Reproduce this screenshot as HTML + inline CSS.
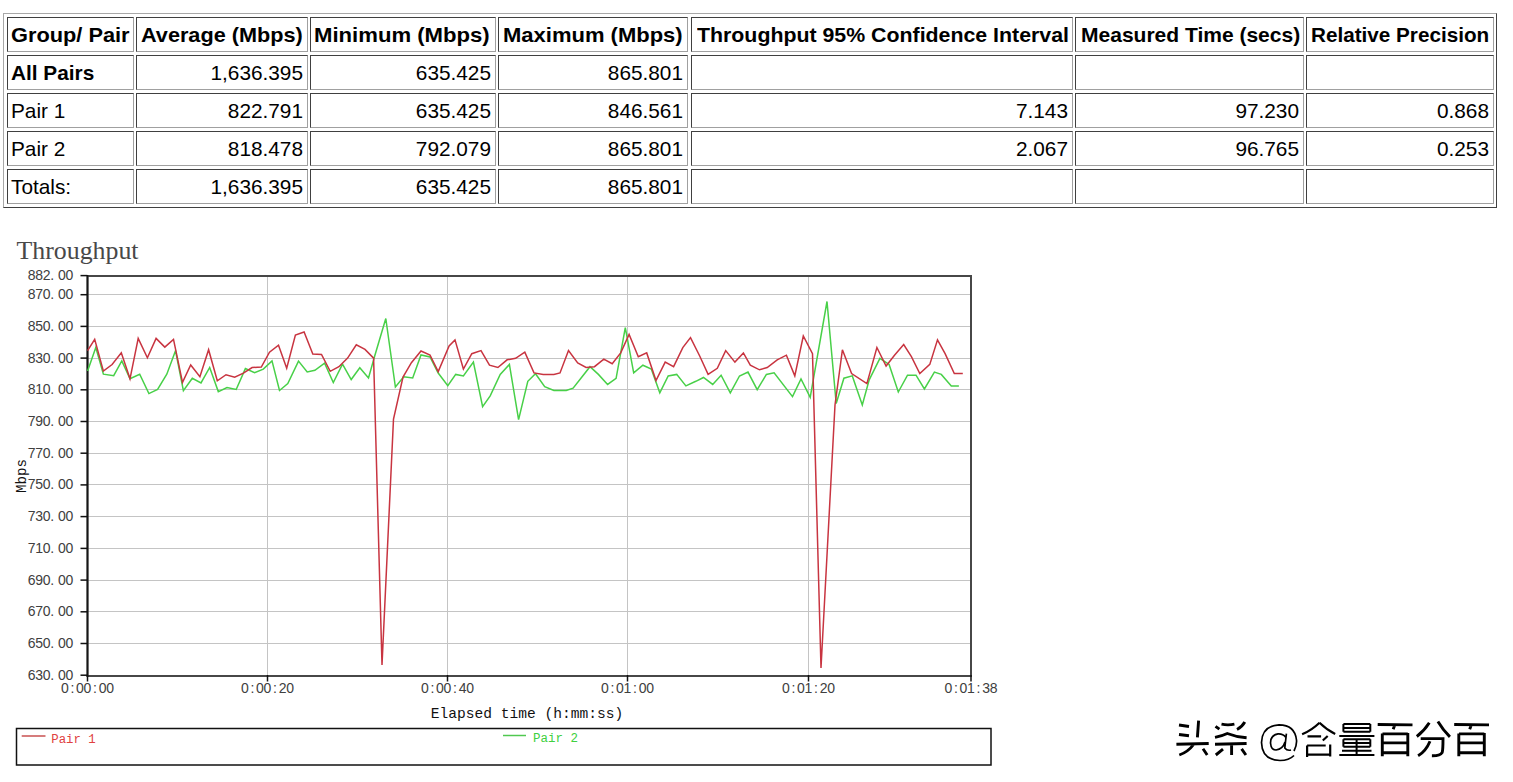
<!DOCTYPE html>
<html><head><meta charset="utf-8"><title>Throughput</title>
<style>
html,body{margin:0;padding:0;background:#fff;}
body{width:1513px;height:782px;position:relative;overflow:hidden;}
.tb{position:absolute;border:1px solid;border-color:#a8a8a8 #404040 #404040 #a8a8a8;}
.td{position:absolute;border:1px solid;border-color:#404040 #a0a0a0 #a0a0a0 #404040;}
.t{position:absolute;font-family:"Liberation Sans",sans-serif;font-size:20.8px;line-height:20px;white-space:nowrap;color:#000;}
.b{font-weight:bold;}
.fit{transform-origin:0 0;}
svg{position:absolute;left:0;top:0;}
.ax{font-family:"Liberation Sans",sans-serif;font-size:14px;fill:#404040;}
.ax2{font-family:"Liberation Mono",monospace;font-size:15px;fill:#111;}
.title{font-family:"Liberation Serif",serif;font-size:24.5px;fill:#484848;}
.lg{font-family:"Liberation Mono",monospace;font-size:12.5px;}
</style></head><body>
<div class="tb" style="left:3px;top:13px;width:1492px;height:193px"></div>
<div class="td" style="left:7px;top:17px;width:125px;height:33px"></div>
<div class="td" style="left:136px;top:17px;width:170px;height:33px"></div>
<div class="td" style="left:310px;top:17px;width:184px;height:33px"></div>
<div class="td" style="left:498px;top:17px;width:188px;height:33px"></div>
<div class="td" style="left:691px;top:17px;width:380px;height:33px"></div>
<div class="td" style="left:1075px;top:17px;width:227px;height:33px"></div>
<div class="td" style="left:1306px;top:17px;width:186px;height:33px"></div>
<div class="td" style="left:7px;top:55px;width:125px;height:33px"></div>
<div class="td" style="left:136px;top:55px;width:170px;height:33px"></div>
<div class="td" style="left:310px;top:55px;width:184px;height:33px"></div>
<div class="td" style="left:498px;top:55px;width:188px;height:33px"></div>
<div class="td" style="left:691px;top:55px;width:380px;height:33px"></div>
<div class="td" style="left:1075px;top:55px;width:227px;height:33px"></div>
<div class="td" style="left:1306px;top:55px;width:186px;height:33px"></div>
<div class="td" style="left:7px;top:93px;width:125px;height:33px"></div>
<div class="td" style="left:136px;top:93px;width:170px;height:33px"></div>
<div class="td" style="left:310px;top:93px;width:184px;height:33px"></div>
<div class="td" style="left:498px;top:93px;width:188px;height:33px"></div>
<div class="td" style="left:691px;top:93px;width:380px;height:33px"></div>
<div class="td" style="left:1075px;top:93px;width:227px;height:33px"></div>
<div class="td" style="left:1306px;top:93px;width:186px;height:33px"></div>
<div class="td" style="left:7px;top:131px;width:125px;height:33px"></div>
<div class="td" style="left:136px;top:131px;width:170px;height:33px"></div>
<div class="td" style="left:310px;top:131px;width:184px;height:33px"></div>
<div class="td" style="left:498px;top:131px;width:188px;height:33px"></div>
<div class="td" style="left:691px;top:131px;width:380px;height:33px"></div>
<div class="td" style="left:1075px;top:131px;width:227px;height:33px"></div>
<div class="td" style="left:1306px;top:131px;width:186px;height:33px"></div>
<div class="td" style="left:7px;top:169px;width:125px;height:33px"></div>
<div class="td" style="left:136px;top:169px;width:170px;height:33px"></div>
<div class="td" style="left:310px;top:169px;width:184px;height:33px"></div>
<div class="td" style="left:498px;top:169px;width:188px;height:33px"></div>
<div class="td" style="left:691px;top:169px;width:380px;height:33px"></div>
<div class="td" style="left:1075px;top:169px;width:227px;height:33px"></div>
<div class="td" style="left:1306px;top:169px;width:186px;height:33px"></div>
<span class="t b fit" style="top:24.99px;left:11.18px;transform:scaleX(1.0466)">Group/ Pair</span>
<span class="t b fit" style="top:24.99px;left:140.94px;transform:scaleX(1.0418)">Average (Mbps)</span>
<span class="t b fit" style="top:24.99px;left:314.44px;transform:scaleX(1.0637)">Minimum (Mbps)</span>
<span class="t b fit" style="top:24.99px;left:503.49px;transform:scaleX(1.0579)">Maximum (Mbps)</span>
<span class="t b fit" style="top:24.99px;left:697.2px;transform:scaleX(1.0252)">Throughput 95% Confidence Interval</span>
<span class="t b fit" style="top:24.99px;left:1080.69px;transform:scaleX(1.0104)">Measured Time (secs)</span>
<span class="t b fit" style="top:24.99px;left:1311.49px;transform:scaleX(0.9945)">Relative Precision</span>
<span class="t b" style="top:62.99px;left:11.0px;">All Pairs</span>
<span class="t n" style="top:62.99px;right:1210.0px;">1,636.395</span>
<span class="t n" style="top:62.99px;right:1022.0px;">635.425</span>
<span class="t n" style="top:62.99px;right:830.0px;">865.801</span>
<span class="t n" style="top:100.99px;left:11.0px;">Pair 1</span>
<span class="t n" style="top:100.99px;right:1210.0px;">822.791</span>
<span class="t n" style="top:100.99px;right:1022.0px;">635.425</span>
<span class="t n" style="top:100.99px;right:830.0px;">846.561</span>
<span class="t n" style="top:100.99px;right:445.0px;">7.143</span>
<span class="t n" style="top:100.99px;right:214.0px;">97.230</span>
<span class="t n" style="top:100.99px;right:24.0px;">0.868</span>
<span class="t n" style="top:138.99px;left:11.0px;">Pair 2</span>
<span class="t n" style="top:138.99px;right:1210.0px;">818.478</span>
<span class="t n" style="top:138.99px;right:1022.0px;">792.079</span>
<span class="t n" style="top:138.99px;right:830.0px;">865.801</span>
<span class="t n" style="top:138.99px;right:445.0px;">2.067</span>
<span class="t n" style="top:138.99px;right:214.0px;">96.765</span>
<span class="t n" style="top:138.99px;right:24.0px;">0.253</span>
<span class="t n" style="top:176.99px;left:11.0px;">Totals:</span>
<span class="t n" style="top:176.99px;right:1210.0px;">1,636.395</span>
<span class="t n" style="top:176.99px;right:1022.0px;">635.425</span>
<span class="t n" style="top:176.99px;right:830.0px;">865.801</span>
<svg width="1513" height="782" viewBox="0 0 1513 782">
<line x1="87.3" y1="643.5" x2="971.0" y2="643.5" stroke="#c4c4c4" stroke-width="1"/>
<line x1="87.3" y1="611.5" x2="971.0" y2="611.5" stroke="#c4c4c4" stroke-width="1"/>
<line x1="87.3" y1="580.5" x2="971.0" y2="580.5" stroke="#c4c4c4" stroke-width="1"/>
<line x1="87.3" y1="548.5" x2="971.0" y2="548.5" stroke="#c4c4c4" stroke-width="1"/>
<line x1="87.3" y1="516.5" x2="971.0" y2="516.5" stroke="#c4c4c4" stroke-width="1"/>
<line x1="87.3" y1="484.5" x2="971.0" y2="484.5" stroke="#c4c4c4" stroke-width="1"/>
<line x1="87.3" y1="453.5" x2="971.0" y2="453.5" stroke="#c4c4c4" stroke-width="1"/>
<line x1="87.3" y1="421.5" x2="971.0" y2="421.5" stroke="#c4c4c4" stroke-width="1"/>
<line x1="87.3" y1="389.5" x2="971.0" y2="389.5" stroke="#c4c4c4" stroke-width="1"/>
<line x1="87.3" y1="358.5" x2="971.0" y2="358.5" stroke="#c4c4c4" stroke-width="1"/>
<line x1="87.3" y1="326.5" x2="971.0" y2="326.5" stroke="#c4c4c4" stroke-width="1"/>
<line x1="87.3" y1="294.5" x2="971.0" y2="294.5" stroke="#c4c4c4" stroke-width="1"/>
<line x1="267.5" y1="275.65" x2="267.5" y2="675.2" stroke="#c4c4c4" stroke-width="1"/>
<line x1="447.5" y1="275.65" x2="447.5" y2="675.2" stroke="#c4c4c4" stroke-width="1"/>
<line x1="627.5" y1="275.65" x2="627.5" y2="675.2" stroke="#c4c4c4" stroke-width="1"/>
<line x1="808.5" y1="275.65" x2="808.5" y2="675.2" stroke="#c4c4c4" stroke-width="1"/>
<rect x="87.5" y="276" width="883.5" height="400" fill="none" stroke="#474747" stroke-width="2"/>
<line x1="87.5" y1="275" x2="87.5" y2="677" stroke="#151515" stroke-width="1.7"/>
<line x1="80.5" y1="275.6" x2="87.3" y2="275.6" stroke="#111" stroke-width="1.5"/>
<text x="31.60 39.17 46.74 52.20 61.88 69.45" y="280.1" text-anchor="middle" class="ax">882.00</text>
<line x1="80.5" y1="294.7" x2="87.3" y2="294.7" stroke="#111" stroke-width="1.5"/>
<text x="31.60 39.17 46.74 52.20 61.88 69.45" y="299.2" text-anchor="middle" class="ax">870.00</text>
<line x1="80.5" y1="326.4" x2="87.3" y2="326.4" stroke="#111" stroke-width="1.5"/>
<text x="31.60 39.17 46.74 52.20 61.88 69.45" y="330.9" text-anchor="middle" class="ax">850.00</text>
<line x1="80.5" y1="358.1" x2="87.3" y2="358.1" stroke="#111" stroke-width="1.5"/>
<text x="31.60 39.17 46.74 52.20 61.88 69.45" y="362.6" text-anchor="middle" class="ax">830.00</text>
<line x1="80.5" y1="389.8" x2="87.3" y2="389.8" stroke="#111" stroke-width="1.5"/>
<text x="31.60 39.17 46.74 52.20 61.88 69.45" y="394.3" text-anchor="middle" class="ax">810.00</text>
<line x1="80.5" y1="421.5" x2="87.3" y2="421.5" stroke="#111" stroke-width="1.5"/>
<text x="31.60 39.17 46.74 52.20 61.88 69.45" y="426.0" text-anchor="middle" class="ax">790.00</text>
<line x1="80.5" y1="453.2" x2="87.3" y2="453.2" stroke="#111" stroke-width="1.5"/>
<text x="31.60 39.17 46.74 52.20 61.88 69.45" y="457.7" text-anchor="middle" class="ax">770.00</text>
<line x1="80.5" y1="484.9" x2="87.3" y2="484.9" stroke="#111" stroke-width="1.5"/>
<text x="31.60 39.17 46.74 52.20 61.88 69.45" y="489.4" text-anchor="middle" class="ax">750.00</text>
<line x1="80.5" y1="516.6" x2="87.3" y2="516.6" stroke="#111" stroke-width="1.5"/>
<text x="31.60 39.17 46.74 52.20 61.88 69.45" y="521.1" text-anchor="middle" class="ax">730.00</text>
<line x1="80.5" y1="548.4" x2="87.3" y2="548.4" stroke="#111" stroke-width="1.5"/>
<text x="31.60 39.17 46.74 52.20 61.88 69.45" y="552.9" text-anchor="middle" class="ax">710.00</text>
<line x1="80.5" y1="580.1" x2="87.3" y2="580.1" stroke="#111" stroke-width="1.5"/>
<text x="31.60 39.17 46.74 52.20 61.88 69.45" y="584.6" text-anchor="middle" class="ax">690.00</text>
<line x1="80.5" y1="611.8" x2="87.3" y2="611.8" stroke="#111" stroke-width="1.5"/>
<text x="31.60 39.17 46.74 52.20 61.88 69.45" y="616.3" text-anchor="middle" class="ax">670.00</text>
<line x1="80.5" y1="643.5" x2="87.3" y2="643.5" stroke="#111" stroke-width="1.5"/>
<text x="31.60 39.17 46.74 52.20 61.88 69.45" y="648.0" text-anchor="middle" class="ax">650.00</text>
<line x1="80.5" y1="675.2" x2="87.3" y2="675.2" stroke="#111" stroke-width="1.5"/>
<text x="31.60 39.17 46.74 52.20 61.88 69.45" y="679.7" text-anchor="middle" class="ax">630.00</text>
<line x1="87.5" y1="675" x2="87.5" y2="681.5" stroke="#111" stroke-width="1.5"/>
<text x="64.88 72.42 79.96 87.50 95.04 102.58 110.12" y="692.9" text-anchor="middle" class="ax">0:00:00</text>
<line x1="267.5" y1="675" x2="267.5" y2="681.5" stroke="#111" stroke-width="1.5"/>
<text x="244.88 252.42 259.96 267.50 275.04 282.58 290.12" y="692.9" text-anchor="middle" class="ax">0:00:20</text>
<line x1="447.5" y1="675" x2="447.5" y2="681.5" stroke="#111" stroke-width="1.5"/>
<text x="424.88 432.42 439.96 447.50 455.04 462.58 470.12" y="692.9" text-anchor="middle" class="ax">0:00:40</text>
<line x1="627.5" y1="675" x2="627.5" y2="681.5" stroke="#111" stroke-width="1.5"/>
<text x="604.88 612.42 619.96 627.50 635.04 642.58 650.12" y="692.9" text-anchor="middle" class="ax">0:01:00</text>
<line x1="808.5" y1="675" x2="808.5" y2="681.5" stroke="#111" stroke-width="1.5"/>
<text x="785.88 793.42 800.96 808.50 816.04 823.58 831.12" y="692.9" text-anchor="middle" class="ax">0:01:20</text>
<line x1="971.0" y1="675" x2="971.0" y2="681.5" stroke="#111" stroke-width="1.5"/>
<text x="948.38 955.92 963.46 971.00 978.54 986.08 993.62" y="692.9" text-anchor="middle" class="ax">0:01:38</text>
<text x="16.5" y="259" textLength="122" lengthAdjust="spacingAndGlyphs" class="title">Throughput</text>
<text x="430.8" y="718.3" textLength="192.5" lengthAdjust="spacingAndGlyphs" class="ax2">Elapsed time (h:mm:ss)</text>
<text transform="translate(25.5,493) rotate(-90)" x="0" y="0" textLength="34" lengthAdjust="spacingAndGlyphs" class="ax2">Mbps</text>
<rect x="16.5" y="728.5" width="974.5" height="36.5" fill="none" stroke="#111" stroke-width="1.5"/>
<line x1="21.7" y1="736" x2="45.5" y2="736" stroke="#c85050" stroke-width="1.5"/>
<text x="51.3" y="742.8" textLength="44.4" lengthAdjust="spacingAndGlyphs" class="lg" fill="#e04040">Pair 1</text>
<line x1="503" y1="735.5" x2="526" y2="735.5" stroke="#50c850" stroke-width="1.5"/>
<text x="533" y="742.3" textLength="45" lengthAdjust="spacingAndGlyphs" class="lg" fill="#40d040">Pair 2</text>
<polyline points="87.6,371.1 95.8,347.6 103.4,374.2 113.7,375.7 121.8,360.9 130.0,378.8 139.7,374.2 148.9,393.6 157.6,389.5 166.8,374.2 175.5,350.7 183.4,390.6 192.3,378.3 201.0,382.9 209.7,367.5 218.3,391.6 227.0,387.5 236.2,389.5 245.4,368.6 254.6,372.7 263.3,369.1 272.0,360.9 279.5,390.5 287.8,383.6 298.5,361.1 307.2,371.9 314.9,370.3 324.6,363.2 333.3,382.6 342.5,364.2 351.2,379.5 359.8,367.8 368.5,378.0 374.7,356.0 385.8,318.5 395.4,387.0 403.7,376.7 412.7,378.0 421.0,355.0 430.0,357.0 438.2,373.0 447.8,385.7 455.7,374.4 463.4,376.0 473.4,362.1 482.6,406.6 490.2,395.9 500.2,374.4 509.4,364.4 518.6,419.7 527.8,381.3 535.5,373.7 544.7,386.7 553.9,390.5 566.2,390.5 573.1,388.2 581.5,377.5 590.0,366.7 598.4,374.4 607.6,384.4 616.1,378.3 625.3,327.6 633.7,372.9 642.9,365.2 651.3,369.0 659.8,392.8 668.2,376.0 676.7,374.4 685.9,385.9 695.8,381.3 703.5,377.5 712.7,384.4 721.1,375.2 730.3,392.8 739.5,376.0 748.0,372.1 757.2,389.7 766.4,374.4 774.1,372.8 792.5,396.6 801.0,379.0 810.2,397.4 827.0,301.5 836.2,403.5 843.9,378.2 852.3,375.9 862.3,405.0 869.2,379.8 879.9,358.3 889.1,364.4 898.3,392.0 907.5,375.2 916.0,375.2 924.4,389.0 934.4,372.1 941.3,374.4 951.3,386.0 958.9,386.0" fill="none" stroke="#48d048" stroke-width="1.5" stroke-linejoin="miter"/>
<polyline points="87.6,350.7 94.7,339.4 103.4,371.1 112.1,364.5 121.3,352.7 130.0,378.8 138.2,338.4 147.4,357.8 156.1,338.4 164.8,347.1 173.5,339.4 182.5,382.4 190.7,365.0 199.9,376.7 208.6,349.7 217.3,380.8 226.0,374.7 234.7,377.3 243.4,373.2 252.1,367.5 261.3,367.0 269.5,352.2 278.5,345.2 286.7,368.3 295.4,335.1 304.1,332.0 312.8,354.0 321.5,354.5 330.2,371.3 338.9,366.7 347.6,358.1 356.3,344.8 365.0,349.4 373.6,358.1 382.0,665.0 393.5,419.0 403.0,377.0 411.4,362.7 421.0,351.0 430.0,355.0 438.2,371.6 449.1,346.0 455.0,339.9 463.4,369.0 471.8,353.7 481.0,350.6 489.5,365.2 497.9,367.5 507.1,359.8 515.6,358.3 524.8,352.2 534.0,372.9 543.2,374.4 553.9,374.4 560.0,372.9 568.5,350.6 577.7,362.9 586.1,367.5 594.5,366.7 603.8,359.1 612.2,363.7 620.7,352.9 629.1,334.5 638.3,356.8 646.7,352.9 656.0,380.6 665.2,362.1 673.6,366.7 682.8,347.6 690.5,337.6 699.7,356.0 708.1,374.4 717.3,368.3 725.7,350.6 734.9,362.1 743.4,352.9 750.3,365.2 759.5,369.8 767.2,367.5 777.2,359.8 786.4,355.2 794.8,375.9 803.3,336.0 812.5,353.7 821.0,668.0 835.0,405.0 842.4,349.8 851.6,373.6 866.9,383.6 876.9,347.5 886.1,366.0 894.5,355.2 903.7,344.5 911.4,356.7 919.8,373.6 929.8,364.4 937.5,339.9 945.1,353.7 954.3,373.6 962.8,373.6" fill="none" stroke="#c83440" stroke-width="1.5" stroke-linejoin="miter"/>
<g fill="none" stroke="#000" stroke-linecap="butt" stroke-width="2.9">
<!-- 头 -->
<path d="M1179,725 L1189,726.5 M1179,734.5 L1189,735.8 M1198.6,720.6 L1197.4,737.4 M1176.4,744.2 L1208.7,743.5 M1193.6,744.5 Q1188,752 1179.3,755 M1203,748.8 L1207.2,755"/>
<!-- 条 -->
<path d="M1221.5,724.2 Q1228,725.5 1234.4,724.2 M1244.8,722 Q1242,727 1237,729.5 M1215.5,726.3 L1219.4,729.2 M1215,737.4 Q1222,736 1227.3,733.5 Q1236,737 1246.6,737.8 M1215,744.2 L1246.6,743.5 M1231.6,743.5 L1231.6,755 M1223,749.2 L1215.8,755 M1241.6,748.8 L1245.9,755"/>
<!-- 含 -->
<path stroke-width="2.2" d="M1319.5,722.7 Q1312,730 1302.1,734.3 M1319.5,722.7 Q1327,730 1335.2,733.9 M1307.5,736.4 L1321.1,736.4 M1327.7,736 L1322.8,740.5 M1307.1,745.5 L1307.1,757 M1307.1,745.5 L1325.7,745.5 M1330.2,744.6 L1330.2,756.6 M1307.1,754.6 L1330.2,754.6"/>
<!-- 量 -->
<path stroke-width="2" d="M1343.4,724 L1370.3,724 M1343.4,728 L1370.3,728 M1343.4,731.8 L1370.3,731.8 M1343.4,724 L1343.4,731.8 M1370.3,724 L1370.3,731.8 M1339.3,736 L1374.4,736 M1343.4,739.3 L1370.3,739.3 M1343.4,743 L1370.3,743 M1343.4,746.7 L1370.3,746.7 M1343.4,739.3 L1343.4,746.7 M1370.3,739.3 L1370.3,746.7 M1356.6,739.3 L1356.6,755 M1342,750.8 L1371.5,750.8 M1339.3,755 L1374.4,755"/>
<!-- 百 1 -->
<path d="M1377.7,724.5 L1412.5,724.9 M1394.5,725.7 L1393.2,729.2 M1382.3,733.5 L1382.3,756.2 M1382.5,733.9 L1407.8,733.9 M1407.8,733 L1407.8,756.2 M1382.5,742.9 L1407,742.9 M1382.5,752.8 L1407,752.8"/>
<!-- 分 -->
<path d="M1429.3,722.7 Q1424,731 1416.8,736.5 M1437.9,721.5 Q1443,730 1449.9,736.9 M1420.7,738.6 L1443,738.6 Q1443,750 1442.2,752.4 Q1440,756 1431.9,755.8 M1430,741.2 Q1426,751 1418.1,755.8"/>
<!-- 百 2 -->
<path d="M1454.2,724.5 L1489,724.9 M1471,725.7 L1469.7,729.2 M1458.8,733.5 L1458.8,756.2 M1459,733.9 L1484.3,733.9 M1484.3,733 L1484.3,756.2 M1459,742.9 L1483.5,742.9 M1459,752.8 L1483.5,752.8"/>
<!-- @ -->
<path stroke-width="1.7" d="M1294,751 Q1297,745 1296.5,740 Q1295,725 1279,724.8 Q1262,726 1261.5,742.5 Q1262,760 1280,760.5 Q1289,760.5 1294,755.5 M1286.4,733.6 L1284.8,748 Q1287,751 1291,750 M1285.5,737 Q1283,733.5 1278,733.8 Q1270.5,735 1270.5,743 Q1271,750 1276,750 Q1283,749 1285,742"/>
</g>

</svg>
</body></html>
